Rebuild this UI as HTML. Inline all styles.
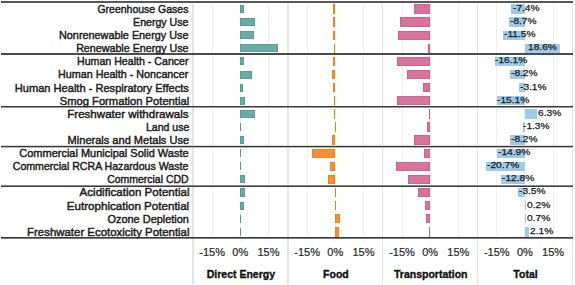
<!DOCTYPE html><html><head><meta charset="utf-8"><style>
html,body{margin:0;padding:0;background:#fff}
#c{position:relative;width:575px;height:285px;overflow:hidden;background:#fff;font-family:"Liberation Sans",sans-serif}
#c div{position:absolute}
.lb{white-space:nowrap;font-size:11px;line-height:13px;height:13px;color:#1e1e1e;-webkit-text-stroke:0.45px #1e1e1e;transform-origin:100% 50%}
.tl{white-space:nowrap;font-size:9.5px;line-height:12px;height:12px;color:#1a1a1a;-webkit-text-stroke:0.25px #1a1a1a;transform:scaleX(1.07);transform-origin:0 50%}
.ax{white-space:nowrap;font-size:11px;line-height:13px;height:13px;color:#262626;-webkit-text-stroke:0.2px #262626;text-align:center;width:40px}
.hd{white-space:nowrap;font-size:10.5px;font-weight:bold;line-height:13px;height:13px;color:#111;-webkit-text-stroke:0.35px #111;text-align:center;width:95px}
.pb{width:1.4px;background:#e4e4e4}
.gl{width:1px;background:#efefef}
.zl{width:1px;background:#f1f1f1}
.sp{height:1px;left:1px;width:571.5px}
.de{background:#6aaca3;box-shadow:inset 0 0 0 0.8px #4f9c91}
.fo{background:#f39234;box-shadow:inset 0 0 0 0.8px #ee7f17}
.tr{background:#d8739b;box-shadow:inset 0 0 0 0.8px #cf5d8a}
.to{background:#a0cbe8}
.tk{width:1px;height:2px;background:#eeeeee}

</style></head><body><div id="c">
<div class="pb" style="left:192.2px;top:4px;height:280px"></div>
<div class="gl" style="left:211.65px;top:3px;height:235px"></div>
<div class="gl" style="left:267.95px;top:3px;height:235px"></div>
<div class="zl" style="left:239.8px;top:3px;height:235px"></div>
<div class="tk" style="left:211.65px;top:240px"></div>
<div class="tk" style="left:239.8px;top:240px"></div>
<div class="tk" style="left:267.95px;top:240px"></div>
<div class="pb" style="left:287.2px;top:4px;height:280px"></div>
<div class="gl" style="left:306.65px;top:3px;height:235px"></div>
<div class="gl" style="left:362.95px;top:3px;height:235px"></div>
<div class="zl" style="left:334.8px;top:3px;height:235px"></div>
<div class="tk" style="left:306.65px;top:240px"></div>
<div class="tk" style="left:334.8px;top:240px"></div>
<div class="tk" style="left:362.95px;top:240px"></div>
<div class="pb" style="left:382.1px;top:4px;height:280px"></div>
<div class="gl" style="left:401.55px;top:3px;height:235px"></div>
<div class="gl" style="left:457.85px;top:3px;height:235px"></div>
<div class="zl" style="left:429.7px;top:3px;height:235px"></div>
<div class="tk" style="left:401.55px;top:240px"></div>
<div class="tk" style="left:429.7px;top:240px"></div>
<div class="tk" style="left:457.85px;top:240px"></div>
<div class="pb" style="left:476.8px;top:4px;height:280px"></div>
<div class="gl" style="left:496.25px;top:3px;height:235px"></div>
<div class="gl" style="left:552.55px;top:3px;height:235px"></div>
<div class="zl" style="left:524.4px;top:3px;height:235px"></div>
<div class="tk" style="left:496.25px;top:240px"></div>
<div class="tk" style="left:524.4px;top:240px"></div>
<div class="tk" style="left:552.55px;top:240px"></div>
<div class="pb" style="left:571.5px;top:4px;height:280px"></div>
<div class="de" style="left:240.2px;top:4.95px;width:4px;height:8.1px"></div>
<div class="fo" style="left:333.3px;top:4.3px;width:1.9px;height:9.4px"></div>
<div class="tr" style="left:414px;top:4.3px;width:16px;height:9.4px"></div>
<div class="to" style="left:511.11px;top:4.3px;width:13.89px;height:9.4px"></div>
<div class="de" style="left:240.2px;top:18.06px;width:15.2px;height:8.1px"></div>
<div class="fo" style="left:333.1px;top:17.41px;width:2.1px;height:9.4px"></div>
<div class="tr" style="left:400.2px;top:17.41px;width:29.8px;height:9.4px"></div>
<div class="to" style="left:508.67px;top:17.41px;width:16.33px;height:9.4px"></div>
<div class="de" style="left:240.2px;top:31.17px;width:13.8px;height:8.1px"></div>
<div class="fo" style="left:333.1px;top:30.52px;width:2.1px;height:9.4px"></div>
<div class="tr" style="left:398.1px;top:30.52px;width:31.9px;height:9.4px"></div>
<div class="to" style="left:503.41px;top:30.52px;width:21.59px;height:9.4px"></div>
<div class="de" style="left:240.2px;top:44.28px;width:37.7px;height:8.1px"></div>
<div class="fo" style="left:334.3px;top:43.63px;width:1px;height:9.4px"></div>
<div class="tr" style="left:427.7px;top:43.63px;width:2.3px;height:9.4px"></div>
<div class="to" style="left:525px;top:43.63px;width:34.91px;height:9.4px"></div>
<div class="de" style="left:240.2px;top:57.39px;width:3.9px;height:8.1px"></div>
<div class="fo" style="left:333.1px;top:56.74px;width:2.1px;height:9.4px"></div>
<div class="tr" style="left:397.3px;top:56.74px;width:32.7px;height:9.4px"></div>
<div class="to" style="left:494.78px;top:56.74px;width:30.22px;height:9.4px"></div>
<div class="de" style="left:240.2px;top:70.5px;width:11.4px;height:8.1px"></div>
<div class="fo" style="left:332.1px;top:69.85px;width:3.1px;height:9.4px"></div>
<div class="tr" style="left:406.7px;top:69.85px;width:23.3px;height:9.4px"></div>
<div class="to" style="left:509.61px;top:69.85px;width:15.39px;height:9.4px"></div>
<div class="de" style="left:240.2px;top:83.61px;width:3.2px;height:8.1px"></div>
<div class="fo" style="left:333.3px;top:82.96px;width:1.9px;height:9.4px"></div>
<div class="tr" style="left:423.2px;top:82.96px;width:6.8px;height:9.4px"></div>
<div class="to" style="left:519.18px;top:82.96px;width:5.82px;height:9.4px"></div>
<div class="de" style="left:240.2px;top:96.72px;width:4.9px;height:8.1px"></div>
<div class="fo" style="left:334.3px;top:96.07px;width:1px;height:9.4px"></div>
<div class="tr" style="left:397.3px;top:96.07px;width:32.7px;height:9.4px"></div>
<div class="to" style="left:496.66px;top:96.07px;width:28.34px;height:9.4px"></div>
<div class="de" style="left:240.2px;top:109.83px;width:15.1px;height:8.1px"></div>
<div class="fo" style="left:333.8px;top:109.18px;width:1.4px;height:9.4px"></div>
<div class="tr" style="left:428.5px;top:109.18px;width:1.5px;height:9.4px"></div>
<div class="to" style="left:525px;top:109.18px;width:11.83px;height:9.4px"></div>
<div class="de" style="left:240.2px;top:122.94px;width:1px;height:8.1px"></div>
<div class="fo" style="left:335.3px;top:122.29px;width:0.8px;height:9.4px"></div>
<div class="tr" style="left:427.1px;top:122.29px;width:2.9px;height:9.4px"></div>
<div class="to" style="left:522.56px;top:122.29px;width:2.44px;height:9.4px"></div>
<div class="de" style="left:240.2px;top:136.05px;width:4px;height:8.1px"></div>
<div class="fo" style="left:332.1px;top:135.4px;width:3.1px;height:9.4px"></div>
<div class="tr" style="left:413.9px;top:135.4px;width:16.1px;height:9.4px"></div>
<div class="to" style="left:509.61px;top:135.4px;width:15.39px;height:9.4px"></div>
<div class="de" style="left:240.2px;top:149.16px;width:1px;height:8.1px"></div>
<div class="fo" style="left:311.9px;top:148.51px;width:23.3px;height:9.4px"></div>
<div class="tr" style="left:423.9px;top:148.51px;width:6.1px;height:9.4px"></div>
<div class="to" style="left:497.03px;top:148.51px;width:27.97px;height:9.4px"></div>
<div class="de" style="left:240.2px;top:162.27px;width:1px;height:8.1px"></div>
<div class="fo" style="left:329.8px;top:161.62px;width:5.4px;height:9.4px"></div>
<div class="tr" style="left:395.5px;top:161.62px;width:34.5px;height:9.4px"></div>
<div class="to" style="left:486.15px;top:161.62px;width:38.85px;height:9.4px"></div>
<div class="de" style="left:240.2px;top:175.38px;width:4.8px;height:8.1px"></div>
<div class="fo" style="left:327.9px;top:174.73px;width:7.3px;height:9.4px"></div>
<div class="tr" style="left:408.2px;top:174.73px;width:21.8px;height:9.4px"></div>
<div class="to" style="left:500.97px;top:174.73px;width:24.03px;height:9.4px"></div>
<div class="de" style="left:240.2px;top:188.49px;width:4.9px;height:8.1px"></div>
<div class="fo" style="left:335.3px;top:187.84px;width:0.7px;height:9.4px"></div>
<div class="tr" style="left:417.9px;top:187.84px;width:12.1px;height:9.4px"></div>
<div class="to" style="left:518.43px;top:187.84px;width:6.57px;height:9.4px"></div>
<div class="de" style="left:240.2px;top:201.6px;width:3.9px;height:8.1px"></div>
<div class="fo" style="left:335.3px;top:200.95px;width:0.7px;height:9.4px"></div>
<div class="tr" style="left:425.2px;top:200.95px;width:4.8px;height:9.4px"></div>
<div class="to" style="left:525px;top:200.95px;width:0.38px;height:9.4px"></div>
<div class="de" style="left:240.2px;top:214.71px;width:1px;height:8.1px"></div>
<div class="fo" style="left:335.3px;top:214.06px;width:4.7px;height:9.4px"></div>
<div class="tr" style="left:426.2px;top:214.06px;width:3.8px;height:9.4px"></div>
<div class="to" style="left:525px;top:214.06px;width:1.31px;height:9.4px"></div>
<div class="de" style="left:240.2px;top:227.82px;width:1px;height:8.1px"></div>
<div class="fo" style="left:335.3px;top:227.17px;width:4px;height:9.4px"></div>
<div class="tr" style="left:428.8px;top:227.17px;width:1.2px;height:9.4px"></div>
<div class="to" style="left:525px;top:227.17px;width:3.94px;height:9.4px"></div>
<div class="sp" style="top:1px;background:#585858"></div>
<div class="sp" style="top:2px;background:#585858"></div>
<div class="sp" style="top:53px;background:#4c4c4c"></div>
<div class="sp" style="top:54px;background:#4c4c4c"></div>
<div class="sp" style="top:106px;background:#383838"></div>
<div class="sp" style="top:107px;background:#9a9a9a"></div>
<div class="sp" style="top:145px;background:#d8d8d8"></div>
<div class="sp" style="top:146px;background:#383838"></div>
<div class="sp" style="top:147px;background:#b8b8b8"></div>
<div class="sp" style="top:185px;background:#8a8a8a"></div>
<div class="sp" style="top:186px;background:#3c3c3c"></div>
<div class="sp" style="top:237px;background:#383838"></div>
<div class="sp" style="top:238px;background:#7c7c7c"></div>
<div class="lb" style="right:386.23px;top:2.94px;transform:scaleX(0.9534)">Greenhouse Gases</div>
<div class="lb" style="right:386.13px;top:16.05px;transform:scaleX(0.9643)">Energy Use</div>
<div class="lb" style="right:386.14px;top:29.16px;transform:scaleX(0.9846)">Nonrenewable Energy Use</div>
<div class="lb" style="right:386.04px;top:42.27px;transform:scaleX(0.9728)">Renewable Energy Use</div>
<div class="lb" style="right:386.54px;top:55.38px;transform:scaleX(0.9651)">Human Health - Cancer</div>
<div class="lb" style="right:386.55px;top:68.49px;transform:scaleX(0.9777)">Human Health - Noncancer</div>
<div class="lb" style="right:386.29px;top:81.6px;transform:scaleX(1.0070)">Human Health - Respiratory Effects</div>
<div class="lb" style="right:385.92px;top:94.71px;transform:scaleX(1.0183)">Smog Formation Potential</div>
<div class="lb" style="right:386.29px;top:107.82px;transform:scaleX(1.0495)">Freshwater withdrawals</div>
<div class="lb" style="right:386.11px;top:120.93px;transform:scaleX(0.9554)">Land use</div>
<div class="lb" style="right:386.04px;top:134.04px;transform:scaleX(1.0033)">Minerals and Metals Use</div>
<div class="lb" style="right:386.05px;top:147.15px;transform:scaleX(0.9982)">Commercial Municipal Solid Waste</div>
<div class="lb" style="right:386.24px;top:160.26px;transform:scaleX(0.9631)">Commercial RCRA Hazardous Waste</div>
<div class="lb" style="right:386.07px;top:173.37px;transform:scaleX(0.9503)">Commercial CDD</div>
<div class="lb" style="right:385.75px;top:186.48px;transform:scaleX(1.0516)">Acidification Potential</div>
<div class="lb" style="right:385.88px;top:199.59px;transform:scaleX(1.0533)">Eutrophication Potential</div>
<div class="lb" style="right:385.9px;top:212.7px;transform:scaleX(0.9944)">Ozone Depletion</div>
<div class="lb" style="right:385.81px;top:225.81px;transform:scaleX(1.0378)">Freshwater Ecotoxicity Potential</div>
<div class="tl" style="left:512.8px;top:1.9px">-7.4%</div>
<div class="tl" style="left:509.9px;top:15.01px">-8.7%</div>
<div class="tl" style="left:503.8px;top:28.12px">-11.5%</div>
<div class="tl" style="left:527.7px;top:41.23px">18.6%</div>
<div class="tl" style="left:495.2px;top:54.34px">-16.1%</div>
<div class="tl" style="left:510.5px;top:67.45px">-8.2%</div>
<div class="tl" style="left:520.2px;top:80.56px">-3.1%</div>
<div class="tl" style="left:496.8px;top:93.67px">-15.1%</div>
<div class="tl" style="left:538.4px;top:106.78px">6.3%</div>
<div class="tl" style="left:523.4px;top:119.89px">-1.3%</div>
<div class="tl" style="left:511px;top:133px">-8.2%</div>
<div class="tl" style="left:498px;top:146.11px">-14.9%</div>
<div class="tl" style="left:486.8px;top:159.22px">-20.7%</div>
<div class="tl" style="left:502.1px;top:172.33px">-12.8%</div>
<div class="tl" style="left:518.8px;top:185.44px">-3.5%</div>
<div class="tl" style="left:526.7px;top:198.55px">0.2%</div>
<div class="tl" style="left:527.2px;top:211.66px">0.7%</div>
<div class="tl" style="left:529.6px;top:224.77px">2.1%</div>
<div class="ax" style="left:192.15px;top:245.89px">-15%</div>
<div class="ax" style="left:220.3px;top:245.89px">0%</div>
<div class="ax" style="left:248.45px;top:245.89px">15%</div>
<div class="ax" style="left:287.15px;top:245.89px">-15%</div>
<div class="ax" style="left:315.3px;top:245.89px">0%</div>
<div class="ax" style="left:343.45px;top:245.89px">15%</div>
<div class="ax" style="left:382.05px;top:245.89px">-15%</div>
<div class="ax" style="left:410.2px;top:245.89px">0%</div>
<div class="ax" style="left:438.35px;top:245.89px">15%</div>
<div class="ax" style="left:476.75px;top:245.89px">-15%</div>
<div class="ax" style="left:504.9px;top:245.89px">0%</div>
<div class="ax" style="left:533.05px;top:245.89px">15%</div>
<div class="hd" style="left:193.4px;top:267.5px">Direct Energy</div>
<div class="hd" style="left:288.4px;top:267.5px">Food</div>
<div class="hd" style="left:383.3px;top:267.5px">Transportation</div>
<div class="hd" style="left:478px;top:267.5px">Total</div>
</div></body></html>
